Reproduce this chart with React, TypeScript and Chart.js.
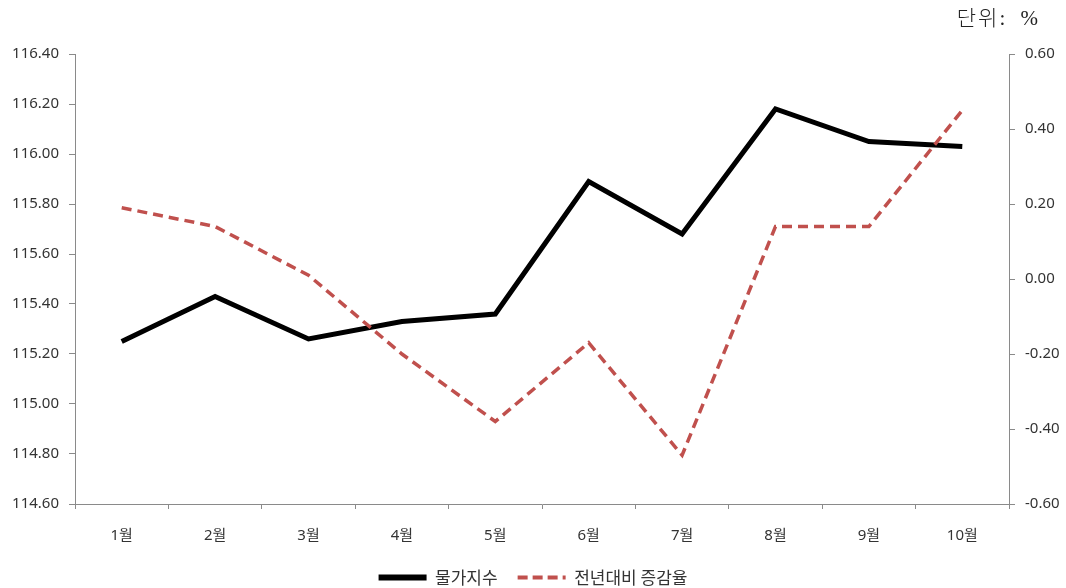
import React, { useEffect, useRef } from "react";
import { Chart, registerables } from "chart.js";

Chart.register(...registerables);

const months = ["1월", "2월", "3월", "4월", "5월", "6월", "7월", "8월", "9월", "10월"];
const priceIndex = [115.25, 115.43, 115.26, 115.33, 115.36, 115.89, 115.68, 116.18, 116.05, 116.03];
const yoyChange = [0.19, 0.14, 0.01, -0.2, -0.38, -0.17, -0.47, 0.14, 0.14, 0.45];

const indexLabel = "물가지수";
const changeLabel = "전년대비 증감율";
const unitText = "단위: %";

const leftAxis = { min: 114.6, max: 116.4, step: 0.2 };
const rightAxis = { min: -0.6, max: 0.6, step: 0.2 };

const W = 1066;
const H = 596;
const axisColor = "#8a8a8a";
const textColor = "#333333";
const tickFont = { family: "'Noto Sans', 'Noto Sans CJK KR', sans-serif", size: 15 };

const fmt = (v: number) => (Math.abs(v) < 1e-9 ? 0 : v).toFixed(2);

export default function App() {
  const canvasRef = useRef<HTMLCanvasElement | null>(null);

  useEffect(() => {
    const canvas = canvasRef.current;
    if (!canvas) return;
    const baseLabels = (Chart.defaults.plugins.legend.labels as any).generateLabels;
    const chart = new Chart(canvas, {
      type: "line",
      data: {
        labels: months,
        datasets: [
          {
            label: indexLabel,
            data: priceIndex,
            yAxisID: "y",
            borderColor: "#000000",
            backgroundColor: "#000000",
            borderWidth: 5,
            pointRadius: 0,
            pointHoverRadius: 0,
            tension: 0,
            order: 2,
          },
          {
            label: changeLabel,
            data: yoyChange,
            yAxisID: "y1",
            borderColor: "#c0504d",
            backgroundColor: "#c0504d",
            borderWidth: 3.5,
            borderDash: [10, 6],
            pointRadius: 0,
            pointHoverRadius: 0,
            tension: 0,
            order: 1,
          },
        ],
      },
      options: {
        responsive: false,
        animation: false,
        layout: { padding: { top: 54, left: 0, right: 0, bottom: 0 } },
        plugins: {
          tooltip: { enabled: false },
          legend: {
            position: "bottom",
            align: "center",
            labels: {
              usePointStyle: true,
              pointStyle: "line",
              pointStyleWidth: 48,
              boxWidth: 48,
              padding: 20,
              color: textColor,
              font: { family: "'Noto Sans CJK KR', 'Noto Sans', sans-serif", size: 17 },
              sort: (a: any, b: any) => a.datasetIndex - b.datasetIndex,
              generateLabels: (c: any) =>
                baseLabels(c).map((item: any) => {
                  const ds = c.data.datasets[item.datasetIndex];
                  return {
                    ...item,
                    strokeStyle: ds.borderColor,
                    fillStyle: ds.borderColor,
                    lineWidth: ds.borderDash ? 4 : 6,
                    lineDash: ds.borderDash ? [10, 5] : [],
                    lineCap: "butt",
                  };
                }),
            },
          },
        },
        scales: {
          x: {
            type: "category",
            offset: true,
            grid: {
              offset: true,
              drawOnChartArea: false,
              drawTicks: true,
              tickLength: 5,
              color: axisColor,
            },
            border: { display: true, color: axisColor, width: 1 },
            ticks: { color: textColor, font: tickFont, padding: 18, maxRotation: 0, autoSkip: false },
            afterFit: (scale: any) => {
              scale.height = 45;
            },
          },
          y: {
            type: "linear",
            position: "left",
            min: leftAxis.min,
            max: leftAxis.max,
            grid: { drawOnChartArea: false, drawTicks: true, tickLength: 6, color: axisColor },
            border: { display: true, color: axisColor, width: 1 },
            ticks: {
              stepSize: leftAxis.step,
              color: textColor,
              font: tickFont,
              padding: 10,
              callback: (v: any) => fmt(Number(v)),
            },
            afterFit: (scale: any) => {
              scale.width = 75;
            },
          },
          y1: {
            type: "linear",
            position: "right",
            min: rightAxis.min,
            max: rightAxis.max,
            grid: { drawOnChartArea: false, drawTicks: true, tickLength: 6, color: axisColor },
            border: { display: true, color: axisColor, width: 1 },
            ticks: {
              stepSize: rightAxis.step,
              color: textColor,
              font: tickFont,
              padding: 10,
              callback: (v: any) => fmt(Number(v)),
            },
            afterFit: (scale: any) => {
              scale.width = W - 1009;
            },
          },
        },
      },
    } as any);
    return () => chart.destroy();
  }, []);

  return (
    <div
      style={{
        position: "fixed",
        left: 0,
        top: 0,
        width: W,
        height: H,
        background: "#ffffff",
      }}
    >
      <canvas ref={canvasRef} width={W} height={H} style={{ display: "block" }} />
      <div
        style={{
          position: "absolute",
          right: 26,
          top: 4,
          fontFamily: "'Liberation Serif', 'Noto Sans CJK KR', serif",
          fontSize: 21,
          fontWeight: 300,
          lineHeight: "28px",
          color: "#222",
          letterSpacing: 2,
          wordSpacing: 6,
          whiteSpace: "nowrap",
        }}
      >
        {unitText}
      </div>
    </div>
  );
}
